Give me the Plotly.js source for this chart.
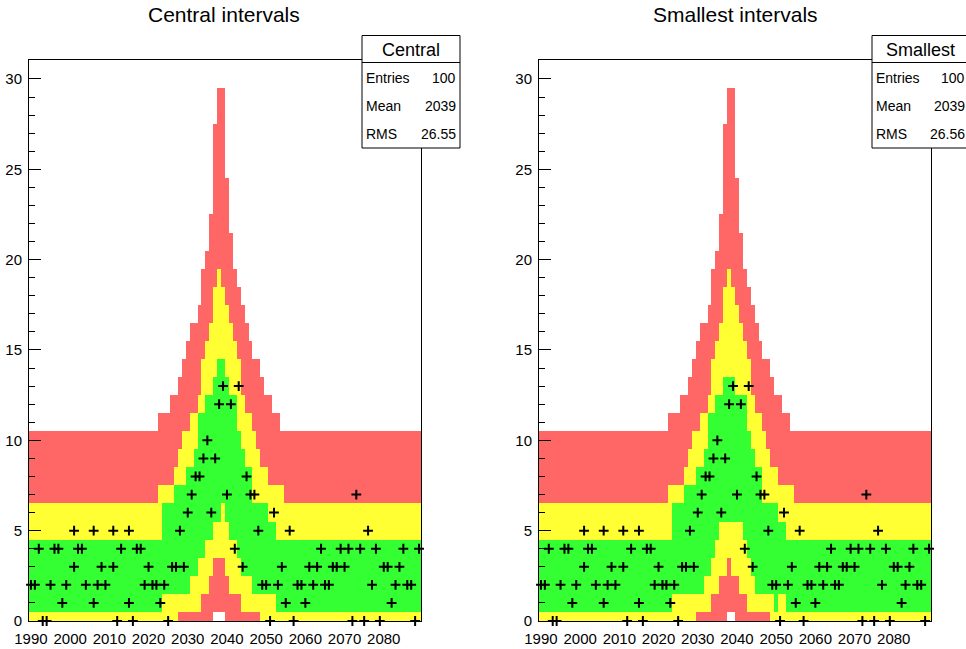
<!DOCTYPE html>
<html><head><meta charset="utf-8">
<script src="https://cdn.plot.ly/plotly-3.0.1.min.js"></script>
<style>html,body{margin:0;padding:0;background:#fff}#chart{width:966px;height:649px}</style>
</head><body><div id="chart"></div>
<script>
// bin centres 1990 ... 2089 (width 1)
const binCentres = Array.from({length: 100}, (_, i) => 1990 + i);
const yRows = Array.from({length: 31}, (_, i) => i);
const tickYears = [1990, 2000, 2010, 2020, 2030, 2040, 2050, 2060, 2070, 2080];

// ---- Central intervals: per x bin, band limits (lowest red, lowest yellow, lowest green, highest green, highest yellow, highest red)
const cLo3 = [
 0,0,0,0,0,0,0,0,0,0, 0,0,0,0,0,0,0,0,0,0, 0,0,0,0,0,0,0,0,0,0,
 0,0,0,0,0,0,0,0,0,0, 0,0,0,0,0,0,0,1,1,1, 0,0,0,0,0,0,0,0,0,0,
 0,0,0,0,0,0,0,0,0,0, 0,0,0,0,0,0,0,0,0,0, 0,0,0,0,0,0,0,0,0,0, 0,0,0,0,0,0,0,0,0,0];
const cLo2 = [
 0,0,0,0,0,0,0,0,0,0, 0,0,0,0,0,0,0,0,0,0, 0,0,0,0,0,0,0,0,0,0,
 0,0,0,0,0,0,0,0,1,1, 1,1,1,1,2,2,3,4,4,4, 3,2,2,2,1,1,1,1,1,0,
 0,0,0,0,0,0,0,0,0,0, 0,0,0,0,0,0,0,0,0,0, 0,0,0,0,0,0,0,0,0,0, 0,0,0,0,0,0,0,0,0,0];
const cLo1 = [
 1,1,1,1,1,1,1,1,1,1, 1,1,1,1,1,1,1,1,1,1, 1,1,1,1,1,1,1,1,1,1,
 1,1,1,1,2,2,2,2,2,2, 2,3,3,4,4,5,5,6,6,7, 6,5,5,4,3,3,3,2,2,2,
 2,2,2,1,1,1,1,1,1,1, 1,1,1,1,1,1,1,1,1,1, 1,1,1,1,1,1,1,1,1,1, 1,1,1,1,1,1,1,1,1,1];
const cHi1 = [
 4,4,4,4,4,4,4,4,4,4, 4,4,4,4,4,4,4,4,4,4, 4,4,4,4,4,4,4,4,4,4,
 4,4,4,4,6,6,6,7,7,7, 8,8,9,11,11,12,12,13,14,14, 13,12,12,10,9,8,8,6,6,6,
 6,5,5,4,4,4,4,4,4,4, 4,4,4,4,4,4,4,4,4,4, 4,4,4,4,4,4,4,4,4,4, 4,4,4,4,4,4,4,4,4,4];
const cHi2 = [
 6,6,6,6,6,6,6,6,6,6, 6,6,6,6,6,6,6,6,6,6, 6,6,6,6,6,6,6,6,6,6,
 6,6,6,7,7,7,7,8,9,10, 10,11,11,12,14,15,16,18,19,18, 17,16,15,14,12,11,11,10,9,8,
 8,7,7,7,7,6,6,6,6,6, 6,6,6,6,6,6,6,6,6,6, 6,6,6,6,6,6,6,6,6,6, 6,6,6,6,6,6,6,6,6,6];
const cHi3 = [
 10,10,10,10,10,10,10,10,10,10, 10,10,10,10,10,10,10,10,10,10, 10,10,10,10,10,10,10,10,10,10,
 10,10,10,11,11,11,12,12,13,14, 15,16,16,17,19,20,22,27,29,29, 24,21,19,18,17,16,15,14,14,13,
 12,12,11,11,10,10,10,10,10,10, 10,10,10,10,10,10,10,10,10,10, 10,10,10,10,10,10,10,10,10,10, 10,10,10,10,10,10,10,10,10,10];

// ---- Smallest intervals
const sLo3 = [
 0,0,0,0,0,0,0,0,0,0, 0,0,0,0,0,0,0,0,0,0, 0,0,0,0,0,0,0,0,0,0,
 0,0,0,0,0,0,0,0,0,0, 0,0,0,0,0,0,0,0,1,1, 0,0,0,0,0,0,0,0,0,0,
 0,0,0,0,0,0,0,0,0,0, 0,0,0,0,0,0,0,0,0,0, 0,0,0,0,0,0,0,0,0,0, 0,0,0,0,0,0,0,0,0,0];
const sLo2 = [
 0,0,0,0,0,0,0,0,0,0, 0,0,0,0,0,0,0,0,0,0, 0,0,0,0,0,0,0,0,0,0,
 0,0,0,0,0,0,0,0,0,0, 1,1,1,1,2,2,3,3,4,3, 3,2,2,1,1,1,1,1,1,0,
 0,0,0,0,0,0,0,0,0,0, 0,0,0,0,0,0,0,0,0,0, 0,0,0,0,0,0,0,0,0,0, 0,0,0,0,0,0,0,0,0,0];
const sLo1 = [
 1,1,1,1,1,1,1,1,1,1, 1,1,1,1,1,1,1,1,1,1, 1,1,1,1,1,1,1,1,1,1,
 1,1,1,1,2,2,2,2,2,2, 2,2,3,3,4,5,6,6,6,6, 6,6,5,4,3,2,2,2,2,2,
 1,2,2,1,1,1,1,1,1,1, 1,1,1,1,1,1,1,1,1,1, 1,1,1,1,1,1,1,1,1,1, 1,1,1,1,1,1,1,1,1,1];
const sHi1 = [
 4,4,4,4,4,4,4,4,4,4, 4,4,4,4,4,4,4,4,4,4, 4,4,4,4,4,4,4,4,4,4,
 4,4,4,4,6,6,6,7,7,7, 8,8,9,11,11,12,12,13,13,13, 12,12,12,10,9,8,8,6,6,6,
 6,5,5,4,4,4,4,4,4,4, 4,4,4,4,4,4,4,4,4,4, 4,4,4,4,4,4,4,4,4,4, 4,4,4,4,4,4,4,4,4,4];
const sHi2 = cHi2.slice();
const sHi3 = cHi3.slice();

// ---- measured points (x, y)
const pointX = [
 1993,1994,2012,2016,2025,2051,2057,2072,2075,2079,2088,
 1998,2006,2015,2023,2055,2060,2082,
 1990,1991,1995,1999,2004,2007,2009,2019,2021,2022,2024,2049,2050,2053,2058,2059,2062,2065,2066,2077,2083,2086,2087,
 2001,2008,2011,2020,2026,2027,2029,2044,2054,2061,2063,2067,2068,2070,2080,2081,2084,
 1992,1996,1997,2002,2003,2013,2017,2018,2042,2064,2069,2071,2074,2078,2085,2089,
 2001,2006,2011,2015,2028,2048,2056,2076,
 2030,2036,2052,
 2031,2040,2046,2047,2073,
 2032,2033,2045,
 2034,2037,
 2035,
 2038,2041,
 2039,2043];
const pointY = [
 0,0,0,0,0,0,0,0,0,0,0,
 1,1,1,1,1,1,1,
 2,2,2,2,2,2,2,2,2,2,2,2,2,2,2,2,2,2,2,2,2,2,2,
 3,3,3,3,3,3,3,3,3,3,3,3,3,3,3,3,3,
 4,4,4,4,4,4,4,4,4,4,4,4,4,4,4,4,
 5,5,5,5,5,5,5,5,
 6,6,6,
 7,7,7,7,7,
 8,8,8,
 9,9,
 10,
 12,12,
 13,13];

const GREEN = '#33ff33', YELLOW = '#ffff33', RED = '#ff6666';
const FONT = 'Liberation Sans, Arial, Helvetica, sans-serif';

function buildZ(lo3, lo2, lo1, hi1, hi2, hi3) {
  return yRows.map(y => binCentres.map((_, i) => {
    if (y < lo3[i] || y > hi3[i]) return null;
    if (y < lo2[i]) return 3;
    if (y < lo1[i]) return 2;
    if (y <= hi1[i]) return 1;
    if (y <= hi2[i]) return 2;
    return 3;
  }));
}
const cs = [[0, GREEN],[0.25, GREEN],[0.25, YELLOW],[0.75, YELLOW],[0.75, RED],[1, RED]];

function heat(z, xa, ya) {
  return {type: 'heatmap', x: binCentres, y: yRows, z: z, xaxis: xa, yaxis: ya,
    zmin: 1, zmax: 3, colorscale: cs, showscale: false, hoverinfo: 'skip', zsmooth: false};
}
function pts(xa, ya) {
  return {type: 'scatter', mode: 'markers', x: pointX, y: pointY, xaxis: xa, yaxis: ya,
    cliponaxis: false, hoverinfo: 'skip',
    marker: {symbol: 'cross-thin', size: 7, color: '#000', line: {color: '#000', width: 2}}};
}

const W = 966, H = 649;
const px = v => v / W, py = v => 1 - v / H;

function xax(l, r) {
  return {domain: [px(l), px(r)], range: [1989.5, 2089.5], showline: true, mirror: true,
    linecolor: '#000', linewidth: 1, ticks: '', showgrid: false, zeroline: false,
    tickvals: tickYears, ticktext: tickYears.map(String), ticklabelstandoff: 4,
    tickfont: {family: FONT, size: 15, color: '#000'}, fixedrange: true};
}
function yax(anchor) {
  return {domain: [py(621), py(60)], range: [0, 31.05], showline: true, mirror: true,
    linecolor: '#000', linewidth: 1, ticks: 'inside', ticklen: 12, tickwidth: 1, tickcolor: '#000',
    tick0: 0, dtick: 5, showgrid: false, zeroline: false, anchor: anchor,
    minor: {ticks: 'inside', ticklen: 6, dtick: 1, tick0: 0, tickcolor: '#000', showgrid: false},
    tickfont: {family: FONT, size: 15, color: '#000'}, ticklabelstandoff: 3, fixedrange: true};
}

const data = [
  heat(buildZ(cLo3, cLo2, cLo1, cHi1, cHi2, cHi3), 'x', 'y'),
  heat(buildZ(sLo3, sLo2, sLo1, sHi1, sHi2, sHi3), 'x2', 'y2'),
  pts('x', 'y'), pts('x2', 'y2')
];

function statBox(l, r, name, mean, rms) {
  const shapes = [
    {type: 'rect', xref: 'paper', yref: 'paper', x0: px(l), x1: px(r), y0: py(148), y1: py(35.5),
     fillcolor: '#fff', line: {color: '#000', width: 1}, layer: 'above'},
    {type: 'line', xref: 'paper', yref: 'paper', x0: px(l), x1: px(r), y0: py(62.5), y1: py(62.5),
     line: {color: '#000', width: 1}, layer: 'above'}
  ];
  const a = (t, x, y, xa, size) => ({text: t, xref: 'paper', yref: 'paper', x: px(x), y: py(y),
    xanchor: xa, yanchor: 'middle', showarrow: false, font: {family: FONT, size: size, color: '#000'}});
  const ann = [
    a(name, (l + r) / 2, 49.5, 'center', 18),
    a('Entries', l + 2, 78.5, 'left', 14), a('100', r - 2, 78.5, 'right', 14),
    a('Mean', l + 2, 106, 'left', 14), a(mean, r - 2, 106, 'right', 14),
    a('RMS', l + 2, 134, 'left', 14), a(rms, r - 2, 134, 'right', 14)
  ];
  return {shapes, ann};
}
const b1 = statBox(362, 460, 'Central', '2039', '26.55');
const b2 = statBox(872, 969, 'Smallest', '2039', '26.56');

const titleAnn = (t, x) => ({text: t, xref: 'paper', yref: 'paper', x: px(x), y: py(15),
  xanchor: 'center', yanchor: 'middle', showarrow: false, font: {family: FONT, size: 21, color: '#000'}});

const layout = {
  width: W, height: H, margin: {l: 0, r: 0, t: 0, b: 0},
  paper_bgcolor: '#fff', plot_bgcolor: '#fff', showlegend: false,
  xaxis: xax(29, 421), yaxis: yax('x'),
  xaxis2: Object.assign(xax(539, 931), {anchor: 'y2'}), yaxis2: yax('x2'),
  shapes: b1.shapes.concat(b2.shapes),
  annotations: b1.ann.concat(b2.ann, [titleAnn('Central intervals', 224), titleAnn('Smallest intervals', 735)])
};
layout.xaxis.anchor = 'y';

Plotly.newPlot('chart', data, layout, {staticPlot: true, displayModeBar: false});
</script></body></html>
